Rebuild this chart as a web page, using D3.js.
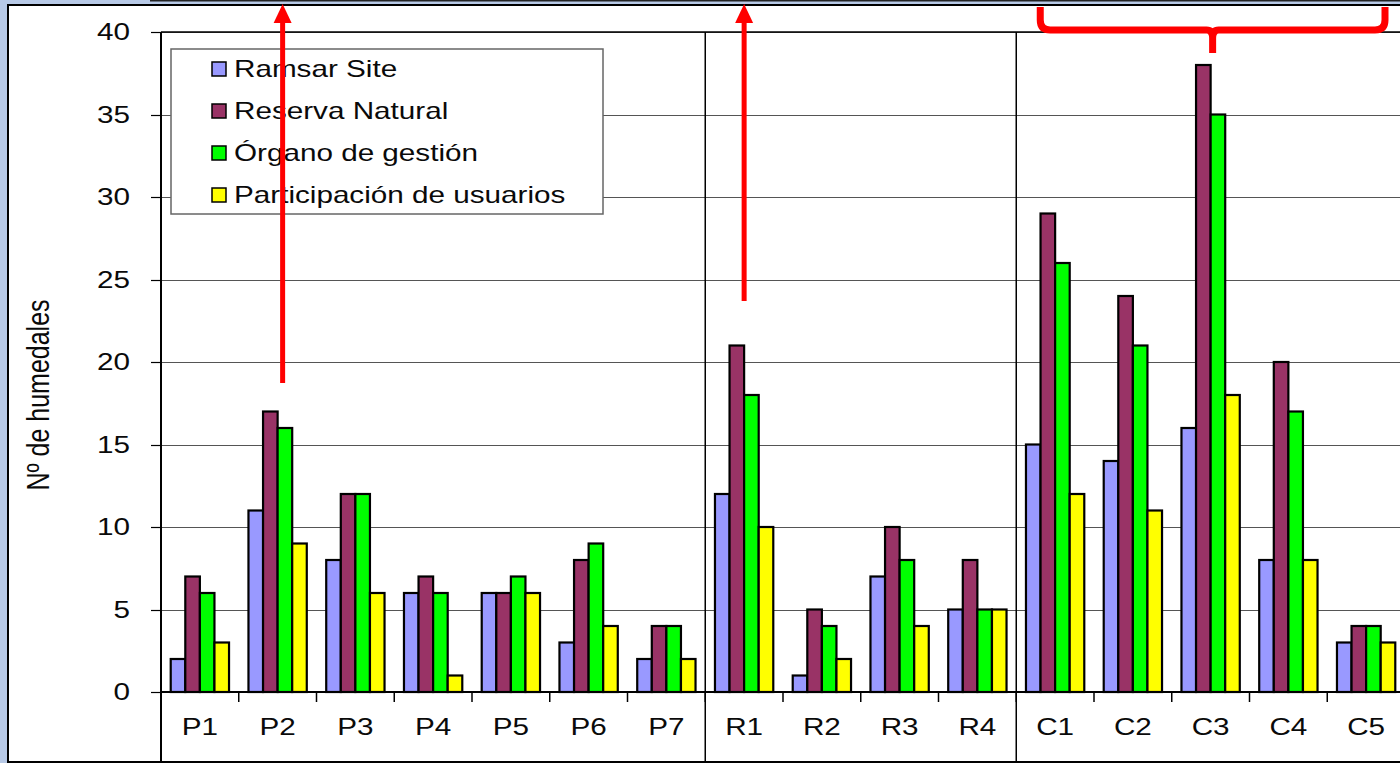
<!DOCTYPE html>
<html>
<head>
<meta charset="utf-8">
<script src="https://cdn.jsdelivr.net/npm/d3@7"></script>
<style>
  body { margin: 0; background: #b7c9e6; }
  svg { display: block; }
</style>
</head>
<body>
<div id="container"></div>
<script>
const categories = ["P1", "P2", "P3", "P4", "P5", "P6", "P7", "R1", "R2", "R3", "R4", "C1", "C2", "C3", "C4", "C5"];
const seriesNames = ["Ramsar Site", "Reserva Natural", "Órgano de gestión", "Participación de usuarios"];
const ramsar = [2, 11, 8, 6, 6, 3, 2, 12, 1, 7, 5, 15, 14, 16, 8, 3];
const reserva = [7, 17, 12, 7, 6, 8, 4, 21, 5, 10, 8, 29, 24, 38, 20, 4];
const organo = [6, 16, 12, 6, 7, 9, 4, 18, 4, 8, 5, 26, 21, 35, 17, 4];
const participacion = [3, 9, 6, 1, 6, 4, 2, 10, 2, 4, 5, 12, 11, 18, 8, 3];
const yTicks = [0, 5, 10, 15, 20, 25, 30, 35, 40];
const groupBreaks = ["R1", "C1"];
const arrowCats = ["P2", "R1"];

const colors = ["#9999ff", "#993366", "#00ff00", "#ffff00"];
const W = 1400, H = 763;
const plot = { left: 161, right: 1405, top: 32, bottom: 692, floor: 762 };
const stretch = 1.29; // the source picture is widened horizontally

const svg = d3.select("#container").append("svg")
  .attr("width", W).attr("height", H)
  .style("font-family", "'Liberation Sans', Arial, sans-serif");

// draws text widened along the screen x direction
function wideText(g, tx, ty, str, anchor, size) {
  return g.append("text")
    .attr("transform", `translate(${tx},${ty}) scale(${stretch},1)`)
    .attr("text-anchor", anchor).attr("font-size", size).attr("fill", "#0a0a0a")
    .text(str);
}

// frame
svg.append("rect").attr("x", 0).attr("y", 0).attr("width", W).attr("height", H).attr("fill", "#b7c9e6");
svg.append("rect").attr("x", 8).attr("y", 5).attr("width", W).attr("height", 757)
  .attr("fill", "#fff").attr("stroke", "#000").attr("stroke-width", 2);
svg.append("line").attr("x1", 150).attr("x2", W).attr("y1", 0.5).attr("y2", 0.5)
  .attr("stroke", "#222").attr("stroke-width", 2);

const x = d3.scaleBand().domain(categories).range([plot.left, plot.right])
  .paddingInner(0.25).paddingOuter(0.125);
const xs = d3.scaleBand().domain(d3.range(4)).range([0, x.bandwidth()]);
const y = d3.scaleLinear().domain([0, 40]).range([plot.bottom, plot.top]);

const edge = c => x(c) - (x.step() - x.bandwidth()) / 2;

// gridlines
svg.append("g").selectAll("line").data(yTicks.slice(1)).join("line")
  .attr("x1", plot.left).attr("x2", W)
  .attr("y1", d => Math.round(y(d)) + 0.5).attr("y2", d => Math.round(y(d)) + 0.5)
  .attr("stroke", "#555").attr("stroke-width", 1.2);

// y axis ticks + labels
svg.append("g").selectAll("line").data(yTicks).join("line")
  .attr("x1", plot.left - 10).attr("x2", plot.left)
  .attr("y1", d => Math.round(y(d)) + 0.5).attr("y2", d => Math.round(y(d)) + 0.5)
  .attr("stroke", "#000").attr("stroke-width", 1.2);
const yl = svg.append("g");
yTicks.forEach(t => wideText(yl, 130, y(t) + 8, t, "end", 23));

svg.append("line").attr("x1", plot.left).attr("x2", plot.left)
  .attr("y1", plot.top).attr("y2", plot.floor).attr("stroke", "#000").attr("stroke-width", 2);
svg.append("line").attr("x1", plot.left).attr("x2", W)
  .attr("y1", plot.top).attr("y2", plot.top).attr("stroke", "#000").attr("stroke-width", 1.5);

// group separators
svg.append("g").selectAll("line").data(groupBreaks).join("line")
  .attr("x1", d => edge(d)).attr("x2", d => edge(d))
  .attr("y1", plot.top).attr("y2", plot.floor)
  .attr("stroke", "#000").attr("stroke-width", 1.5);

// bars
const series = [ramsar, reserva, organo, participacion];
const barData = [];
categories.forEach((c, i) => series.forEach((s, k) => barData.push({ c, k, v: s[i] })));
svg.append("g").selectAll("rect").data(barData).join("rect")
  .attr("x", d => x(d.c) + xs(d.k)).attr("width", xs.bandwidth())
  .attr("y", d => y(d.v)).attr("height", d => y(0) - y(d.v))
  .attr("fill", d => colors[d.k]).attr("stroke", "#000").attr("stroke-width", 2.2);

// x axis
svg.append("line").attr("x1", plot.left).attr("x2", W)
  .attr("y1", plot.bottom).attr("y2", plot.bottom).attr("stroke", "#000").attr("stroke-width", 2);
svg.append("g").selectAll("line").data(categories.slice(1)).join("line")
  .attr("x1", d => edge(d)).attr("x2", d => edge(d))
  .attr("y1", plot.bottom).attr("y2", plot.bottom + 10)
  .attr("stroke", "#000").attr("stroke-width", 1.5);
const xl = svg.append("g");
categories.forEach(c => wideText(xl, x(c) + x.bandwidth() / 2, 735, c, "middle", 23));

svg.append("text")
  .attr("transform", `translate(49,395) rotate(-90) scale(1,${stretch})`)
  .attr("text-anchor", "middle").attr("font-size", 25).attr("fill", "#0a0a0a")
  .text("Nº de humedales");

// legend
const lg = svg.append("g");
lg.append("rect").attr("x", 171).attr("y", 49).attr("width", 432).attr("height", 165)
  .attr("fill", "#fff").attr("stroke", "#666").attr("stroke-width", 1.5);
seriesNames.forEach((name, i) => {
  const ry = 69 + i * 42;
  lg.append("rect").attr("x", 212).attr("y", ry - 7).attr("width", 14).attr("height", 14)
    .attr("fill", colors[i]).attr("stroke", "#000").attr("stroke-width", 1.5);
  wideText(lg, 234, ry + 8, name, "start", 23);
});

// annotations
const red = "#ff0000";
const arrowBottoms = [383, 301];
const arrowShift = [5, 0];
const ann = svg.append("g");
arrowCats.forEach((c, i) => {
  const cx = x(c) + x.bandwidth() / 2 + arrowShift[i];
  ann.append("rect").attr("x", cx - 2.5).attr("y", 20).attr("width", 5)
    .attr("height", arrowBottoms[i] - 20).attr("fill", red);
  ann.append("path").attr("d", `M${cx - 9},${23} L${cx},${4} L${cx + 9},${23} Z`).attr("fill", red);
});
const bl = edge("C1") + 24, br = 1385, bm = x("C3") + xs(2) + 2;
ann.append("path")
  .attr("d", `M${bl},7 L${bl},20 Q${bl},30 ${bl + 10},30 L${bm - 6},30 Q${bm},30 ${bm},38 L${bm},53 M${bm},38 Q${bm},30 ${bm + 6},30 L${br - 10},30 Q${br},30 ${br},20 L${br},7`)
  .attr("fill", "none").attr("stroke", red).attr("stroke-width", 7);
</script>
</body>
</html>
